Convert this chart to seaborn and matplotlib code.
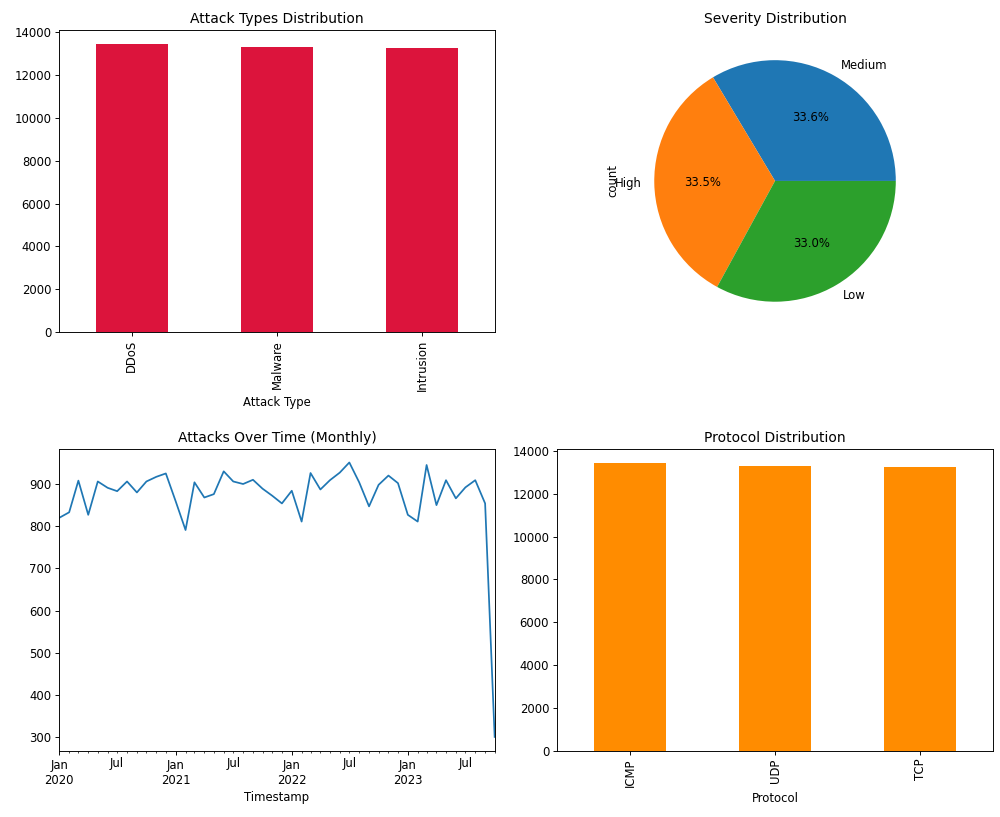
import matplotlib
matplotlib.use('Agg')
import matplotlib.pyplot as plt
import matplotlib.dates as mdates
import pandas as pd
import seaborn as sns

# Data
attack_types = ['DDoS', 'Malware', 'Intrusion']
attack_counts = [13445, 13300, 13255]

severity_levels = ['Medium', 'High', 'Low']
severity_counts = [13435, 13382, 13183]

protocols = ['ICMP', 'UDP', 'TCP']
protocol_counts = [13430, 13310, 13260]

monthly_attacks = [
    820, 833, 908, 827, 906, 891, 883, 906, 880, 906, 917, 925,
    859, 791, 904, 868, 876, 930, 906, 900, 910, 889, 872, 854,
    884, 811, 926, 887, 909, 927, 951, 904, 847, 898, 920, 902,
    827, 811, 945, 850, 909, 866, 892, 909, 854, 301,
]
months = pd.date_range('2020-01-01', periods=len(monthly_attacks), freq='MS')

df_attack = pd.DataFrame({'Attack Type': attack_types, 'count': attack_counts})
df_proto = pd.DataFrame({'Protocol': protocols, 'count': protocol_counts})
df_time = pd.DataFrame({'Timestamp': months, 'count': monthly_attacks})

fig, axes = plt.subplots(2, 2, figsize=(12, 9.804))
fig.subplots_adjust(left=0.0593, right=0.9927, top=0.9633, bottom=0.0812,
                    wspace=0.144, hspace=0.387)

# 1. Tipos de ataque
ax = axes[0, 0]
sns.barplot(data=df_attack, x='Attack Type', y='count', order=attack_types,
            color='crimson', saturation=1, width=0.5, linewidth=0, ax=ax)
ax.set_title('Attack Types Distribution')
ax.set_ylabel('')
ax.tick_params(axis='x', rotation=90)

# 2. Severidade (pizza)
ax = axes[0, 1]
ax.pie(severity_counts, labels=severity_levels, autopct='%1.1f%%',
       colors=sns.color_palette('tab10', 3))
ax.set_title('Severity Distribution')
ax.set_ylabel('count')

# 3. Ataques ao longo do tempo
ax = axes[1, 0]
sns.lineplot(data=df_time, x='Timestamp', y='count', color='#1f77b4', ax=ax)
ax.set_title('Attacks Over Time (Monthly)')
ax.set_ylabel('')
ax.set_xlim(months[0], months[-1])
ax.xaxis.set_major_locator(mdates.MonthLocator(bymonth=1))
ax.xaxis.set_major_formatter(mdates.DateFormatter('%b\n%Y'))
ax.xaxis.set_minor_locator(mdates.MonthLocator())
ax.xaxis.set_minor_formatter(
    plt.FuncFormatter(lambda v, p: 'Jul' if mdates.num2date(v).month == 7 else ''))

# 4. Protocolos
ax = axes[1, 1]
sns.barplot(data=df_proto, x='Protocol', y='count', order=protocols,
            color='darkorange', saturation=1, width=0.5, linewidth=0, ax=ax)
ax.set_title('Protocol Distribution')
ax.set_ylabel('')
ax.tick_params(axis='x', rotation=90)

fig.savefig('out.png', dpi=1000 / 12)
